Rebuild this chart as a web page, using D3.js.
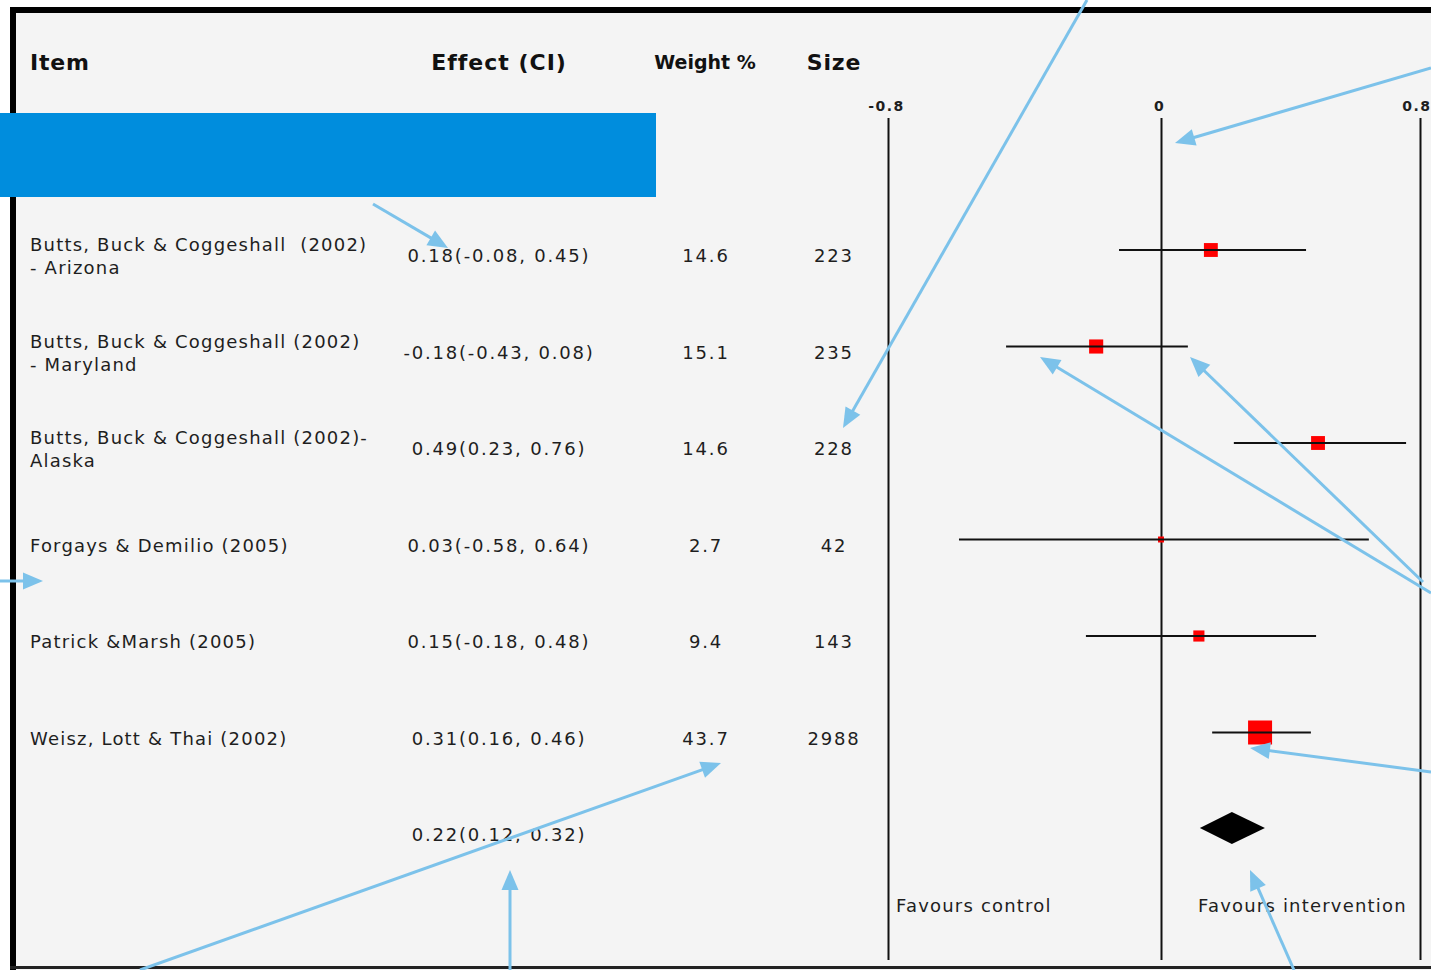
<!DOCTYPE html>
<html>
<head>
<meta charset="utf-8">
<script src="https://cdn.jsdelivr.net/npm/d3@7"></script>
<style>
  html, body { margin: 0; padding: 0; background: #ffffff; overflow: hidden; }
  svg { display: block; }
  text { white-space: pre; }
</style>
</head>
<body>
<script>
// ---------- data ----------
const items = [
  ["Butts, Buck & Coggeshall  (2002)", "- Arizona"],
  ["Butts, Buck & Coggeshall (2002)", "- Maryland"],
  ["Butts, Buck & Coggeshall (2002)-", "Alaska"],
  ["Forgays & Demilio (2005)"],
  ["Patrick &Marsh (2005)"],
  ["Weisz, Lott & Thai (2002)"]
];
const effects = [0.18, -0.18, 0.49, 0.03, 0.15, 0.31];
const ciLow   = [-0.08, -0.43, 0.23, -0.58, -0.18, 0.16];
const ciHigh  = [0.45, 0.08, 0.76, 0.64, 0.48, 0.46];
const weights = [14.6, 15.1, 14.6, 2.7, 9.4, 43.7];
const sizes   = [223, 235, 228, 42, 143, 2988];
const pooled  = [0.22, 0.12, 0.32];           // effect, low, high (text)
// positions as drawn in the plot (axis units)
const plotEst  = [0.154, -0.19, 0.485, 0.0, 0.117, 0.306];
const plotLow  = [-0.123, -0.454, 0.225, -0.592, -0.22, 0.158];
const plotHigh = [0.448, 0.083, 0.757, 0.642, 0.479, 0.463];
const plotPooled = [0.219, 0.12, 0.321];       // effect, low, high
const tickValues = [-0.8, 0, 0.8];
const tickLabels = ["-0.8", "0", "0.8"];
const headers = ["Item", "Effect (CI)", "Weight %", "Size"];
const favourLabels = ["Favours control", "Favours intervention"];

// ---------- layout ----------
const W = 1431, H = 970;
const svg = d3.select("body").append("svg").attr("width", W).attr("height", H);

const FONT = "'DejaVu Sans', Verdana, sans-serif";
const TXT = "#1e1e1e";

// frame
svg.append("rect").attr("x", 10).attr("y", 7).attr("width", W).attr("height", H).attr("fill", "#f4f4f4");
svg.append("rect").attr("x", 10).attr("y", 7).attr("width", W).attr("height", 6).attr("fill", "#000");
svg.append("rect").attr("x", 10).attr("y", 7).attr("width", 6).attr("height", H).attr("fill", "#000");
svg.append("rect").attr("x", 10).attr("y", 966).attr("width", W).attr("height", 3).attr("fill", "#222");

// scales
const x = d3.scaleLinear().domain([-0.8, 0, 0.8]).range([888, 1161, 1420]);
const y = d3.scalePoint().domain(d3.range(7)).range([256, 835]);
const sq = d3.scaleSqrt().domain([0, d3.max(weights)]).range([0, 24]);
const plotOffset = -6;

// axis (full-height reference lines)
const axisTop = 118, axisBottom = 960;
const axis = d3.axisTop(x)
  .tickValues(tickValues)
  .tickFormat((d, i) => tickLabels[i])
  .tickSize(-(axisBottom - axisTop))
  .tickPadding(10);
const gAxis = svg.append("g").attr("transform", `translate(0,${axisTop})`).call(axis);
gAxis.select(".domain").remove();
gAxis.selectAll(".tick line").attr("stroke", "#111").attr("stroke-width", 2);
gAxis.selectAll(".tick text")
  .attr("font-family", FONT).attr("font-size", 14).attr("font-weight", "bold")
  .attr("letter-spacing", "1.5px").attr("fill", TXT).attr("dy", "0.2em")
  .attr("text-anchor", (d, i) => i === tickValues.length - 1 ? "end" : "middle")
  .attr("x", (d, i) => i === tickValues.length - 1 ? 11 : -2);

// headers
const headerPos = [
  {x: 30, anchor: "start", size: 22, ls: 0.8},
  {x: 499, anchor: "middle", size: 22, ls: 1.0},
  {x: 705, anchor: "middle", size: 19, ls: 0},
  {x: 834, anchor: "middle", size: 22, ls: 0.8}
];
svg.append("g").selectAll("text").data(headers).join("text")
  .attr("x", (d, i) => headerPos[i].x)
  .attr("y", 62).attr("dy", "0.35em")
  .attr("text-anchor", (d, i) => headerPos[i].anchor)
  .attr("font-family", FONT).attr("font-weight", "bold")
  .attr("font-size", (d, i) => headerPos[i].size)
  .attr("letter-spacing", (d, i) => headerPos[i].ls + "px")
  .attr("fill", "#111")
  .text(d => d);

// row text
const gRows = svg.append("g").attr("font-family", FONT).attr("fill", TXT);
items.forEach((lines, i) => {
  const t = gRows.append("text").attr("x", 30).attr("font-size", 18).attr("letter-spacing", "1.2px");
  const n = lines.length;
  lines.forEach((ln, j) => {
    t.append("tspan").attr("x", 30)
      .attr("y", y(i) + (n === 1 ? 0 : (j === 0 ? -11 : 12)))
      .attr("dy", "0.35em").text(ln);
  });
});
const fmt = v => String(v);
const effText = effects.map((e, i) => `${fmt(e)}(${fmt(ciLow[i])}, ${fmt(ciHigh[i])})`);
effText.push(`${fmt(pooled[0])}(${fmt(pooled[1])}, ${fmt(pooled[2])})`);
gRows.selectAll("text.eff").data(effText).join("text").attr("class", "eff")
  .attr("x", 499).attr("y", (d, i) => y(i)).attr("dy", "0.35em")
  .attr("text-anchor", "middle").attr("font-size", 18).attr("letter-spacing", "1.8px")
  .text(d => d);
gRows.selectAll("text.wt").data(weights).join("text").attr("class", "wt")
  .attr("x", 706).attr("y", (d, i) => y(i)).attr("dy", "0.35em")
  .attr("text-anchor", "middle").attr("font-size", 18).attr("letter-spacing", "1.8px")
  .text(d => d.toFixed(1));
gRows.selectAll("text.sz").data(sizes).join("text").attr("class", "sz")
  .attr("x", 834).attr("y", (d, i) => y(i)).attr("dy", "0.35em")
  .attr("text-anchor", "middle").attr("font-size", 18).attr("letter-spacing", "1.8px")
  .text(d => d);

// squares
const gPlot = svg.append("g");
gPlot.selectAll("rect.sq").data(weights).join("rect").attr("class", "sq")
  .attr("x", (d, i) => x(plotEst[i]) - sq(d) / 2)
  .attr("y", (d, i) => y(i) + plotOffset - sq(d) / 2)
  .attr("width", d => sq(d)).attr("height", d => sq(d))
  .attr("fill", "#ff0000");
// CI lines
gPlot.selectAll("line.ci").data(plotLow).join("line").attr("class", "ci")
  .attr("x1", d => x(d)).attr("x2", (d, i) => x(plotHigh[i]))
  .attr("y1", (d, i) => y(i) + plotOffset).attr("y2", (d, i) => y(i) + plotOffset)
  .attr("stroke", "#111").attr("stroke-width", 2);
// pooled diamond
const py = y(6) + plotOffset - 1, dh = 16;
gPlot.append("path")
  .attr("d", `M${x(plotPooled[1])},${py}L${x(plotPooled[0])},${py - dh}L${x(plotPooled[2])},${py}L${x(plotPooled[0])},${py + dh}Z`)
  .attr("fill", "#000");

// favour labels
svg.append("g").attr("font-family", FONT).attr("fill", TXT)
  .selectAll("text").data(favourLabels).join("text")
  .attr("x", (d, i) => i === 0 ? 896 : 1198).attr("y", 906).attr("dy", "0.35em")
  .attr("font-size", 18).attr("letter-spacing", "1.2px")
  .text(d => d);

// blue box
svg.append("rect").attr("x", 0).attr("y", 113).attr("width", 656).attr("height", 84).attr("fill", "#008ddd");

// annotation arrows
const arrows = [
  [1087, 0, 843, 428],
  [1431, 68, 1175, 143],
  [373, 204, 448, 248],
  [0, 581, 43, 581],
  [1431, 593, 1040, 357],
  [1423, 582, 1190, 357],
  [1431, 772, 1250, 748],
  [140, 970, 721, 763],
  [510, 970, 510, 870],
  [1294, 970, 1250, 870]
];
const AC = "#7cc2ea", HL = 20, HW = 8.5;
const gA = svg.append("g");
arrows.forEach(([x1, y1, x2, y2]) => {
  const dx = x2 - x1, dy = y2 - y1, L = Math.hypot(dx, dy);
  const ux = dx / L, uy = dy / L, bx = x2 - ux * HL, by = y2 - uy * HL;
  gA.append("line").attr("x1", x1).attr("y1", y1).attr("x2", bx + ux * 2).attr("y2", by + uy * 2)
    .attr("stroke", AC).attr("stroke-width", 3);
  gA.append("path")
    .attr("d", `M${x2},${y2}L${bx - uy * HW},${by + ux * HW}L${bx + uy * HW},${by - ux * HW}Z`)
    .attr("fill", AC);
});
</script>
</body>
</html>
